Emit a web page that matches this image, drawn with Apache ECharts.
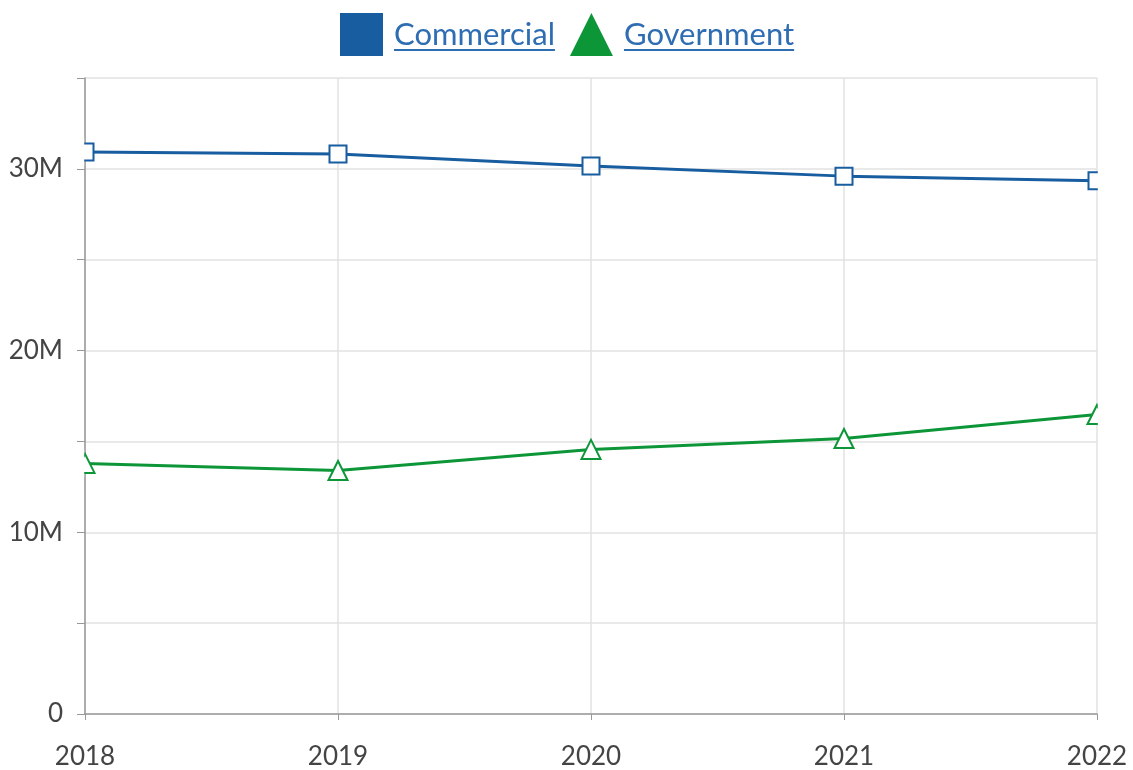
<!DOCTYPE html>
<html><head><meta charset="utf-8">
<script src="https://cdn.jsdelivr.net/npm/echarts@6/dist/echarts.min.js"></script>
<style>html,body{margin:0;padding:0;background:#fff}#c{width:1133px;height:770px}</style>
</head><body><div id="c"></div>
<script>
var years = ['2018', '2019', '2020', '2021', '2022'];
var commercial = [30.93e6, 30.82e6, 30.16e6, 29.6e6, 29.34e6];
var government = [13.79e6, 13.4e6, 14.56e6, 15.16e6, 16.48e6];
var seriesNames = ['Commercial', 'Government'];
var blue = '#175d9f', green = '#0c9638', linkBlue = '#2f6db3';
var font = 'Lato, "Open Sans", sans-serif';
var legendFontSize = 31, legendLeft = 340, iconW = 43, textPad = 6, itemGap = 15;

function measure(t) {
  var c = document.createElement('canvas').getContext('2d');
  c.font = legendFontSize + 'px ' + font;
  return c.measureText(t).width;
}

var chart = echarts.init(document.getElementById('c'));
var option = {
  animation: false,
  textStyle: {fontFamily: font},
  legend: {
    top: 13, left: legendLeft, padding: 0, itemWidth: iconW, itemHeight: 43, itemGap: itemGap,
    textStyle: {fontSize: legendFontSize, color: linkBlue, fontFamily: font, padding: [4, 0, 0, textPad]},
    data: [
      {name: seriesNames[0], icon: 'rect', itemStyle: {color: blue, borderWidth: 0}},
      {name: seriesNames[1], icon: 'triangle', itemStyle: {color: green, borderWidth: 0}}
    ]
  },
  grid: {left: 85, right: 36, top: 78, bottom: 55},
  xAxis: {
    type: 'category', data: years, boundaryGap: false,
    axisLine: {lineStyle: {color: '#999', width: 1.5}},
    axisTick: {show: true, alignWithLabel: true, length: 6, lineStyle: {color: '#999'}},
    axisLabel: {fontSize: 26, color: '#444', margin: 30, fontFamily: font, showMaxLabel: true, showMinLabel: true},
    splitLine: {show: true, lineStyle: {color: '#e2e2e2', width: 1.5}}
  },
  yAxis: {
    type: 'value', min: 0, max: 35e6, interval: 5e6,
    axisLine: {show: true, lineStyle: {color: '#999', width: 1.5}},
    axisTick: {show: true, length: 8, lineStyle: {color: '#999'}},
    axisLabel: {fontSize: 26, color: '#444', margin: 22, fontFamily: font,
      formatter: function (v) { if (v % 10e6 !== 0) return ''; return v === 0 ? '0' : (v / 1e6) + 'M'; }},
    splitLine: {show: true, lineStyle: {color: '#e2e2e2', width: 1.5}}
  },
  series: [
    {name: seriesNames[0], type: 'line', data: commercial, symbol: 'emptyRect', symbolSize: 17,
      lineStyle: {color: blue, width: 3}, itemStyle: {color: blue, borderWidth: 3.5}},
    {name: seriesNames[1], type: 'line', data: government, symbol: 'emptyTriangle', symbolSize: 19,
      lineStyle: {color: green, width: 3}, itemStyle: {color: green, borderWidth: 3.5}}
  ]
};
chart.setOption(option);

// underlines for legend text (link style) and masks clipping edge markers at the grid border
var graphics = [];
var x = legendLeft;
seriesNames.forEach(function (n) {
  var tx = x + iconW + 5 + textPad;
  var w = measure(n);
  graphics.push({type: 'line', shape: {x1: tx, y1: 50, x2: tx + w, y2: 50}, style: {stroke: linkBlue, lineWidth: 2}, z: 100});
  x = tx + w + itemGap;
});
[commercial, government].forEach(function (arr) {
  var p0 = chart.convertToPixel({gridIndex: 0}, [0, arr[0]]);
  var p1 = chart.convertToPixel({gridIndex: 0}, [arr.length - 1, arr[arr.length - 1]]);
  graphics.push({type: 'rect', shape: {x: p0[0] - 15, y: p0[1] - 14, width: 14.2, height: 28}, style: {fill: '#fff'}, z: 100});
  graphics.push({type: 'rect', shape: {x: p1[0] + 0.8, y: p1[1] - 14, width: 15, height: 28}, style: {fill: '#fff'}, z: 100});
});
chart.setOption({graphic: graphics});
</script></body></html>
